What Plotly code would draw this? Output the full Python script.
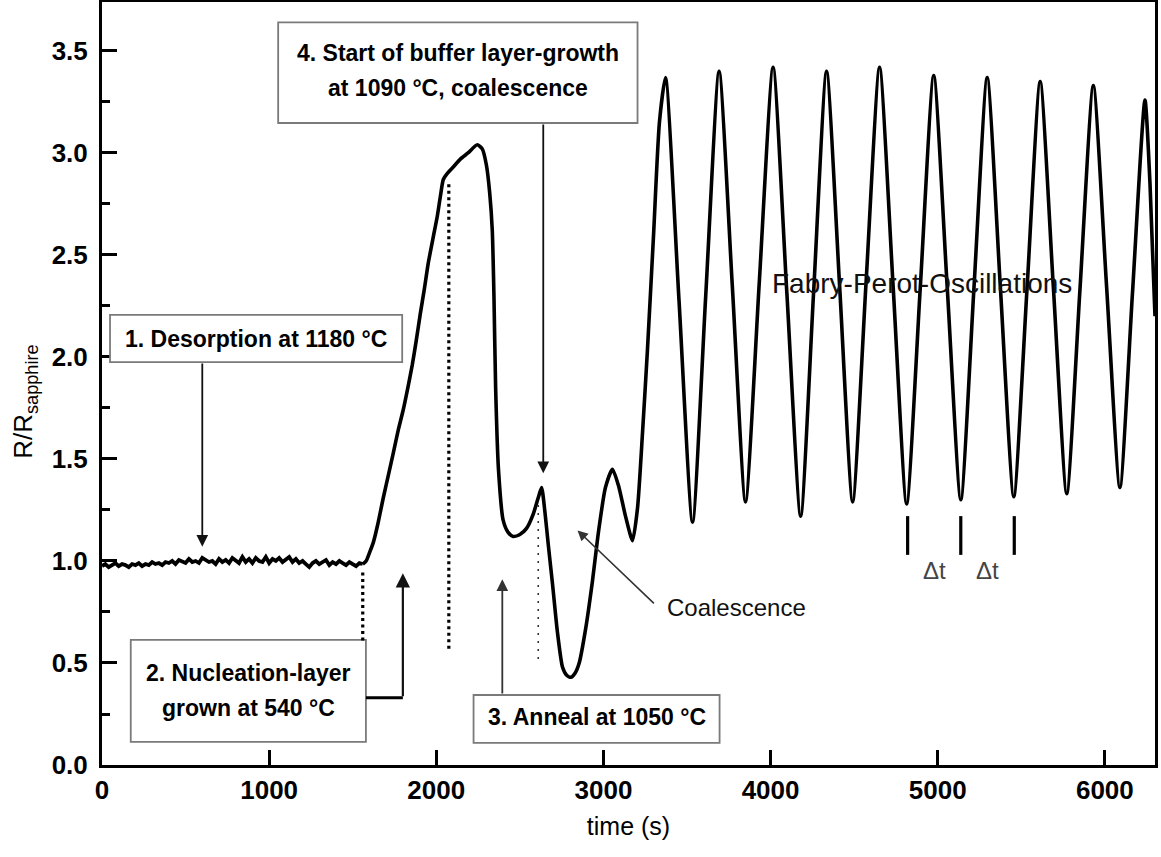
import plotly.graph_objects as go

# ---------------- data ----------------
# baseline (desorption phase), t = 0..1560 s
base_t = [0, 20, 40, 60, 80, 100, 120, 140, 160, 180,
          200, 220, 240, 260, 280, 300, 320, 340, 360, 380,
          400, 420, 440, 460, 480, 500, 520, 540, 560, 580,
          600, 620, 640, 660, 680, 700, 720, 740, 760, 780,
          800, 820, 840, 860, 880, 900, 920, 940, 960, 980,
          1000, 1020, 1040, 1060, 1080, 1100, 1120, 1140, 1160, 1180,
          1200, 1220, 1240, 1260, 1280, 1300, 1320, 1340, 1360, 1380,
          1400, 1420, 1440, 1460, 1480, 1500, 1520, 1540, 1560]
base_r = [0.975, 0.985, 0.970, 0.980, 0.990, 0.975, 0.985, 0.980, 0.970, 0.985,
          0.980, 0.990, 0.975, 0.985, 0.980, 0.995, 0.985, 0.990, 0.980, 0.995,
          0.990, 1.000, 0.985, 1.005, 0.995, 0.990, 1.010, 0.995, 1.000, 0.990,
          1.015, 1.005, 0.995, 1.000, 0.985, 1.010, 0.995, 1.005, 0.990, 1.015,
          1.000, 0.990, 1.020, 0.995, 1.010, 0.990, 1.015, 1.000, 0.995, 1.020,
          0.990, 1.010, 1.000, 1.015, 0.995, 1.005, 1.020, 0.995, 1.010, 0.990,
          1.000, 0.985, 0.970, 0.990, 1.000, 0.985, 0.995, 1.005, 0.980, 0.995,
          0.985, 1.000, 0.990, 0.980, 0.995, 0.985, 0.975, 0.990, 0.985]

# nucleation, anneal, coalescence
growth_t = [1560, 1580, 1600, 1623, 1650, 1683, 1713, 1743, 1772, 1802, 1830,
            1856, 1880, 1904, 1928, 1952, 1980, 2006, 2025, 2042, 2066,
            2100, 2144, 2190, 2245, 2275, 2300, 2320, 2335, 2345, 2355,
            2372, 2400, 2430, 2460, 2500, 2540, 2580, 2610, 2630, 2650,
            2670, 2695, 2725, 2755, 2780, 2805, 2830, 2855, 2892, 2934,
            2970, 3012, 3054, 3090, 3132, 3174, 3204, 3234, 3263, 3300, 3335]
growth_r = [0.985, 1.00, 1.04, 1.09, 1.18, 1.31, 1.42, 1.53, 1.64, 1.74, 1.85,
            1.96, 2.08, 2.21, 2.33, 2.46, 2.58, 2.69, 2.79, 2.87, 2.90,
            2.93, 2.97, 3.00, 3.04, 3.02, 2.94, 2.80, 2.62, 2.30, 1.85,
            1.45, 1.20, 1.14, 1.12, 1.13, 1.16, 1.23, 1.31, 1.36, 1.24,
            1.08, 0.89, 0.65, 0.48, 0.44, 0.43, 0.45, 0.50, 0.66, 0.90,
            1.14, 1.36, 1.45, 1.37, 1.22, 1.10, 1.26, 1.63, 2.03, 2.60, 3.15]

# Fabry-Perot oscillations: peaks, midpoints, troughs
osc_t = [3371, 3452, 3533, 3612, 3692, 3771, 3850, 3932, 4015, 4097,
         4180, 4257, 4335, 4413, 4491, 4571, 4652, 4733, 4814, 4895,
         4976, 5057, 5138, 5217, 5296, 5375, 5455, 5534, 5613, 5692,
         5772, 5851, 5931, 6010, 6090, 6165, 6240, 6270, 6300]
osc_r = [3.37, 2.28, 1.19, 2.30, 3.40, 2.35, 1.29, 2.36, 3.42, 2.32,
         1.22, 2.31, 3.40, 2.35, 1.29, 2.36, 3.42, 2.35, 1.28, 2.33,
         3.38, 2.34, 1.30, 2.34, 3.37, 2.34, 1.315, 2.33, 3.35, 2.34,
         1.33, 2.33, 3.33, 2.35, 1.36, 2.31, 3.26, 2.85, 2.20]

x_ticks = [0, 1000, 2000, 3000, 4000, 5000, 6000]
y_ticks = [0.0, 0.5, 1.0, 1.5, 2.0, 2.5, 3.0, 3.5]

# annotation boxes: (x0, x1, y0, y1)
box1 = (48, 1796, 1.975, 2.206)
box2 = (172, 1579, 0.113, 0.613)
box3 = (2223, 3695, 0.108, 0.343)
box4 = (1054, 3204, 3.147, 3.640)

FONT = "Liberation Sans, Arial, Helvetica, sans-serif"

fig = go.Figure()
fig.add_trace(go.Scatter(
    x=base_t, y=base_r, mode="lines",
    line=dict(color="black", width=3.8),
    hoverinfo="skip", showlegend=False))
fig.add_trace(go.Scatter(
    x=growth_t + osc_t, y=growth_r + osc_r, mode="lines",
    line=dict(color="black", width=3.6, shape="spline", smoothing=0.6),
    hoverinfo="skip", showlegend=False))

shapes = []
for (x0, x1, y0, y1) in (box1, box2, box3, box4):
    shapes.append(dict(type="rect", xref="x", yref="y", x0=x0, x1=x1, y0=y0, y1=y1,
                       line=dict(color="#7a7a7a", width=1.8), fillcolor="white",
                       layer="above"))

# dotted markers
shapes.append(dict(type="line", xref="x", yref="y", x0=1560, x1=1560, y0=0.61, y1=0.96,
                   line=dict(color="black", width=3.2, dash="3px,3.5px")))
shapes.append(dict(type="line", xref="x", yref="y", x0=2075, x1=2075, y0=0.57, y1=2.86,
                   line=dict(color="black", width=3.2, dash="3px,3.5px")))
shapes.append(dict(type="line", xref="x", yref="y", x0=2610, x1=2610, y0=0.52, y1=1.28,
                   line=dict(color="#333", width=1.6, dash="2px,6px")))
# connector from box 2
shapes.append(dict(type="line", xref="x", yref="y", x0=box2[1], x1=1800, y0=0.33, y1=0.33,
                   line=dict(color="black", width=3)))
# delta-t bars
for xb in (4820, 5138, 5458):
    shapes.append(dict(type="line", xref="x", yref="y", x0=xb, x1=xb, y0=1.03, y1=1.22,
                       line=dict(color="black", width=3.2)))

annotations = []

def arrow(x_tip, y_tip, x_tail, y_tail, w=1.8, color="#111"):
    annotations.append(dict(x=x_tip, y=y_tip, ax=x_tail, ay=y_tail, xref="x", yref="y",
                            axref="x", ayref="y", text="", showarrow=True,
                            arrowhead=2, arrowsize=1.3, arrowwidth=w, arrowcolor=color))

arrow(600, 1.07, 600, box1[2])
arrow(1800, 0.94, 1800, 0.33, w=2.2)
arrow(2395, 0.91, 2395, box3[3], w=1.8, color="#333")
arrow(2640, 1.43, 2640, box4[2])
arrow(2845, 1.15, 3311, 0.785, w=1.6, color="#333")

def label(x, y, text, size, bold=False, color="black", xanchor="center"):
    annotations.append(dict(x=x, y=y, xref="x", yref="y", text=("<b>%s</b>" % text) if bold else text,
                            showarrow=False, xanchor=xanchor, yanchor="middle",
                            font=dict(family=FONT, size=size, color=color)))

label((box1[0] + box1[1]) / 2, 2.09, "1. Desorption at 1180 °C", 23, bold=True)
label((box2[0] + box2[1]) / 2, 0.45, "2. Nucleation-layer", 23, bold=True)
label((box2[0] + box2[1]) / 2, 0.28, "grown at 540 °C", 23, bold=True)
label((box3[0] + box3[1]) / 2, 0.235, "3. Anneal at 1050 °C", 23, bold=True)
label((box4[0] + box4[1]) / 2, 3.49, "4. Start of buffer layer-growth", 23, bold=True)
label((box4[0] + box4[1]) / 2, 3.32, "at 1090 °C, coalescence", 23, bold=True)
label(4905, 2.36, "Fabry-Perot-Oscillations", 28, color="#111")
label(3371, 0.77, "Coalescence", 24, color="#111", xanchor="left")
label(4978, 0.955, "Δt", 24, color="#444")
label(5298, 0.955, "Δt", 24, color="#444")

# y-axis title (placed as rotated text so it can sit where the reference has it)
annotations.append(dict(x=0, y=1.78, xref="paper", yref="y", xshift=-77,
                        text="R/R<sub>sapphire</sub>", showarrow=False, textangle=-90,
                        xanchor="center", yanchor="middle",
                        font=dict(family=FONT, size=26, color="black")))

fig.update_layout(
    width=1161, height=857,
    margin=dict(l=102, r=6, t=2, b=92),
    paper_bgcolor="white", plot_bgcolor="white",
    font=dict(family=FONT, color="black"),
    shapes=shapes, annotations=annotations,
    xaxis=dict(range=[0, 6300], tickvals=x_ticks, ticktext=[str(v) for v in x_ticks],
               ticks="inside", ticklen=15, tickwidth=3, tickcolor="black",
               showline=True, linewidth=3, linecolor="black", mirror=True,
               showgrid=False, zeroline=False, automargin=False,
               tickfont=dict(family=FONT, size=26, color="black", weight="bold"),
               title=dict(text="time (s)", font=dict(family=FONT, size=25, color="black"),
                          standoff=14)),
    yaxis=dict(range=[0, 3.74], tickvals=y_ticks, ticktext=["%.1f" % v for v in y_ticks],
               ticks="inside", ticklen=15, tickwidth=3, tickcolor="black",
               minor=dict(dtick=0.25, ticks="inside", ticklen=8, tickwidth=3, tickcolor="black"),
               showline=True, linewidth=3, linecolor="black", mirror=True,
               showgrid=False, zeroline=False, ticklabelstandoff=6, automargin=False,
               tickfont=dict(family=FONT, size=26, color="black", weight="bold")),
)

fig.write_html("out.html", config={"displayModeBar": False},
               post_script="document.body.style.margin='0px';document.body.style.overflow='hidden';")
